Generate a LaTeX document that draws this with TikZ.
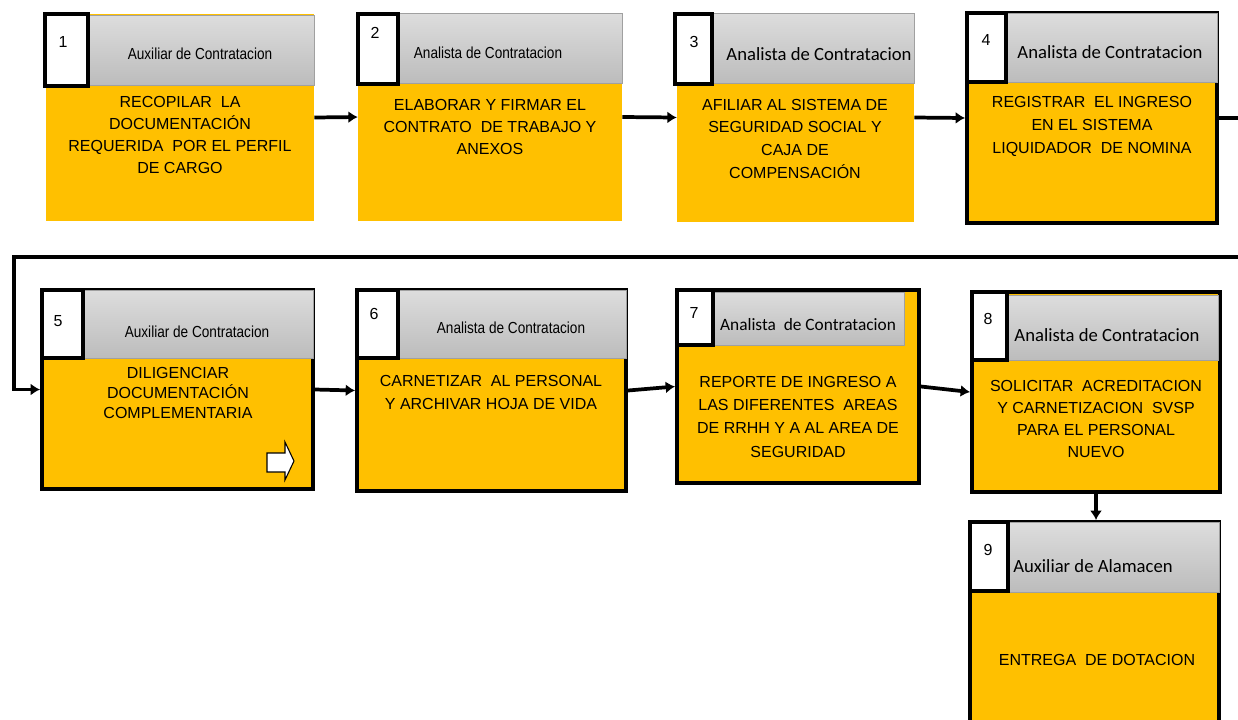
\documentclass[tikz,border=0pt]{standalone}
\usepackage{fontspec}
\setmainfont{Liberation Sans}
\newfontfamily\calibrifont{Carlito}
\newfontfamily\narrowfont[FakeStretch=0.85]{Liberation Sans}
\usetikzlibrary{fit,arrows.meta}

\definecolor{cardyellow}{HTML}{FFC000}
\definecolor{headtop}{HTML}{DDDDDD}
\definecolor{headbot}{HTML}{BCBCBC}
\definecolor{headline}{HTML}{A0A0A0}

\tikzset{
  card/.style={fill=cardyellow, inner sep=0pt},
  framed/.style={draw=black, line width=3pt},
  header/.style={top color=headtop, bottom color=headbot, draw=headline, line width=0.6pt, inner sep=0pt},
  numbox/.style={fill=white, draw=black, line width=2.5pt, inner sep=0pt},
  numtext/.style={font=\fontsize{12}{14}\selectfont, anchor=base, inner sep=0pt},
  hdsmall/.style={font=\narrowfont\fontsize{12}{14}\selectfont, anchor=base, inner sep=0pt},
  hdlarge/.style={font=\calibrifont\fontsize{14}{16}\selectfont, anchor=base, inner sep=0pt},
  % base anchor sits on the last line
  bodytext/.style={font=\fontsize{12}{16.5}\selectfont, align=center, anchor=base, inner sep=0pt},
  link/.style={line width=2.8pt, -{Latex[length=7pt,width=9pt]}}
}

\begin{document}
\begin{tikzpicture}[x=0.75pt, y=-0.75pt]
    \path[use as bounding box] (0,0) rectangle (1238,719);
    \clip (0,0) rectangle (1238,719);

    % Row 1
    \node[card, fit={(46,14) (314,221)}] (c1) {};
    \node[header, fit={(88,15) (314,85)}] (h1) {};
    \node[numbox, fit={(45,14) (88,86)}] (s1) {};
    \node[numtext] (n1) at (63,47) {1};
    \node[hdsmall] (r1) at (200,59) {Auxiliar de Contratacion};
    \node[bodytext] (t1) at (180,173) {RECOPILAR\ \ LA\\DOCUMENTACIÓN\\REQUERIDA\ \ POR EL PERFIL\\DE CARGO};

    \node[card, fit={(358,13) (622,221)}] (c2) {};
    \node[header, fit={(398,13) (622,83)}] (h2) {};
    \node[numbox, fit={(358,14) (398,84)}] (s2) {};
    \node[numtext] (n2) at (375,38) {2};
    \node[hdsmall] (r2) at (488,58) {Analista de Contratacion};
    \node[bodytext] (t2) at (490,154) {ELABORAR Y FIRMAR EL\\CONTRATO\ \ DE TRABAJO Y\\ANEXOS};

    \node[card, fit={(677,13) (914,222)}] (c3) {};
    \node[header, fit={(712,13) (914,83)}] (h3) {};
    \node[numbox, fit={(675,14) (712,84)}] (s3) {};
    \node[numtext] (n3) at (694,47) {3};
    \node[hdlarge] (r3) at (819,60) {Analista de Contratacion};
    \node[bodytext, font=\fontsize{12}{17}\selectfont] (t3) at (795,178) {AFILIAR AL SISTEMA DE\\SEGURIDAD SOCIAL Y\\CAJA DE\\COMPENSACIÓN};

    \node[card, framed, fit={(967,13) (1217,223)}] (c4) {};
    \node[header, fit={(1006,13) (1217,82)}] (h4) {};
    \node[numbox, fit={(967,13) (1006,82)}] (s4) {};
    \node[numtext] (n4) at (986,45) {4};
    \node[hdlarge] (r4) at (1110,58) {Analista de Contratacion};
    \node[bodytext, font=\fontsize{12}{17}\selectfont] (t4) at (1092,153) {REGISTRAR\ \ EL INGRESO\\EN EL SISTEMA\\LIQUIDADOR\ \ DE NOMINA};

    % Row 2
    \node[card, framed, fit={(42,290) (313,489)}] (c5) {};
    \node[header, fit={(83,290) (313,358)}] (h5) {};
    \node[numbox, fit={(42,290) (83,358)}] (s5) {};
    \node[numtext] (n5) at (58,326) {5};
    \node[hdsmall] (r5) at (197,337) {Auxiliar de Contratacion};
    \node[bodytext, font=\fontsize{12}{15}\selectfont] (t5) at (178,418) {DILIGENCIAR\\DOCUMENTACIÓN\\COMPLEMENTARIA};
    \draw[fill=white, line width=0.8pt] (267,453) -- (285,453) -- (285,442) -- (294,461)
        -- (285,480) -- (285,472) -- (267,472) -- cycle;

    \node[card, framed, fit={(357,290) (626,491)}] (c6) {};
    \node[header, fit={(398,290) (626,358)}] (h6) {};
    \node[numbox, fit={(357,290) (398,358)}] (s6) {};
    \node[numtext] (n6) at (374,319) {6};
    \node[hdsmall] (r6) at (511,333) {Analista de Contratacion};
    \node[bodytext, font=\fontsize{12}{17}\selectfont] (t6) at (491,409) {CARNETIZAR\ \ AL PERSONAL\\Y ARCHIVAR HOJA DE VIDA};

    \node[card, framed, fit={(677,290) (919,483)}] (c7) {};
    \node[header, fit={(713,292) (904,345)}] (h7) {};
    \node[numbox, fit={(677,290) (713,345)}] (s7) {};
    \node[numtext] (n7) at (694,318) {7};
    \node[hdlarge, font=\calibrifont\fontsize{13}{15}\selectfont] (r7) at (808,330) {Analista\ \ de Contratacion};
    \node[bodytext, font=\fontsize{12}{17.3}\selectfont] (t7) at (798,457) {REPORTE DE INGRESO A\\LAS DIFERENTES\ \ AREAS\\DE RRHH Y A AL AREA DE\\SEGURIDAD};

    \node[card, framed, fit={(972,292) (1220,492)}] (c8) {};
    \node[header, fit={(1007,295) (1218,360)}] (h8) {};
    \node[numbox, fit={(972,292) (1007,360)}] (s8) {};
    \node[numtext] (n8) at (988,324) {8};
    \node[hdlarge] (r8) at (1107,341) {Analista de Contratacion};
    \node[bodytext] (t8) at (1096,457) {SOLICITAR\ \ ACREDITACION\\Y CARNETIZACION\ \ SVSP\\PARA EL PERSONAL\\NUEVO};

    % Step 9
    \node[card, framed, fit={(970,522) (1219,760)}] (c9) {};
    \node[header, fit={(1008,522) (1219,592)}] (h9) {};
    \node[numbox, fit={(970,522) (1008,591)}] (s9) {};
    \node[numtext] (n9) at (988,555) {9};
    \node[hdlarge, anchor=base west] (r9) at (1013,572) {Auxiliar de Alamacen};
    \node[bodytext] (t9) at (1097,665) {ENTREGA\ \ DE DOTACION};

    % Connectors
    \coordinate (turnR) at (1260,257);
    \coordinate (turnL) at (14,257);
    \draw[link] (c1.east) -- (c2.west);
    \draw[link] (c2.east) -- (c3.west);
    \draw[link] (c3.east) -- (c4.west);
    \draw[link] (c4.east) -| (turnR) -- (turnL) |- (c5.west);
    \draw[link] (c5.east) -- (c6.west);
    \draw[link] (c6.east) -- (c7.west);
    \draw[link] (c7.east) -- (c8.west);
    \draw[link] (c8.south) -- (c8.south |- c9.north);
\end{tikzpicture}
\end{document}
